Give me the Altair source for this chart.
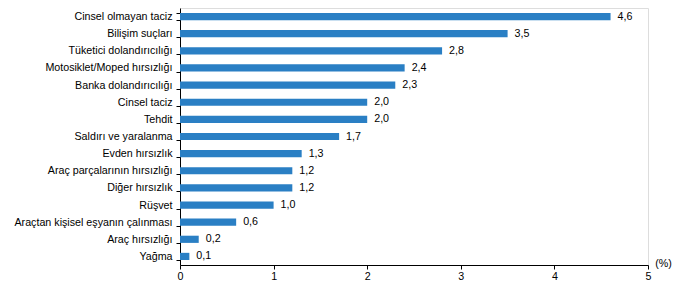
import altair as alt
import pandas as pd

categories = [
    "Cinsel olmayan taciz",
    "Bilişim suçları",
    "Tüketici dolandırıcılığı",
    "Motosiklet/Moped hırsızlığı",
    "Banka dolandırıcılığı",
    "Cinsel taciz",
    "Tehdit",
    "Saldırı ve yaralanma",
    "Evden hırsızlık",
    "Araç parçalarının hırsızlığı",
    "Diğer hırsızlık",
    "Rüşvet",
    "Araçtan kişisel eşyanın çalınması",
    "Araç hırsızlığı",
    "Yağma",
]
values = [4.6, 3.5, 2.8, 2.4, 2.3, 2.0, 2.0, 1.7, 1.3, 1.2, 1.2, 1.0, 0.6, 0.2, 0.1]
x_ticks = [0, 1, 2, 3, 4, 5]

df = pd.DataFrame({"kategori": categories, "oran": values})

FONT = "Liberation Sans"
FS = 10.7
BLUE = "#2a7fc4"

y_enc = alt.Y(
    "kategori:N",
    sort=categories,
    scale=alt.Scale(paddingInner=0.58, paddingOuter=0.29),
    axis=alt.Axis(
        title=None,
        tickBand="extent",
        tickSize=4,
        tickColor="black",
        domainColor="black",
        labelPadding=4,
        labelFont=FONT,
        labelFontSize=FS,
        labelColor="black",
        labelLimit=200,
    ),
)
x_enc = alt.X(
    "oran:Q",
    scale=alt.Scale(domain=[0, 5], nice=False),
    axis=alt.Axis(
        values=x_ticks,
        format="d",
        grid=False,
        labelFlush=False,
        tickSize=4,
        tickColor="black",
        domainColor="black",
        labelPadding=2,
        labelFont=FONT,
        labelFontSize=FS,
        labelColor="black",
        title="(%)",
        titleFont=FONT,
        titleFontSize=FS,
        titleFontWeight="normal",
        titleColor="black",
        titleX=483,
        titleY=-2,
        titleAlign="center",
        titleBaseline="middle",
    ),
)

bars = alt.Chart(df).mark_bar(color=BLUE).encode(y=y_enc, x=x_enc)

labels = (
    alt.Chart(df)
    .transform_calculate(etiket="replace(format(datum.oran, '.1f'), '.', ',')")
    .mark_text(align="left", baseline="middle", dx=7, font=FONT, fontSize=FS, color="black")
    .encode(y=alt.Y("kategori:N", sort=categories), x="oran:Q", text="etiket:N")
)

chart = (
    alt.layer(bars, labels)
    .properties(
        width=468,
        height=257,
        autosize=alt.AutoSizeParams(type="none"),
        padding={"left": 180, "top": 8, "right": 38, "bottom": 28},
    )
    .configure_view(stroke=None)
    .configure(background="white")
)

chart.save("out.html", embed_options={"renderer": "svg", "actions": False})
